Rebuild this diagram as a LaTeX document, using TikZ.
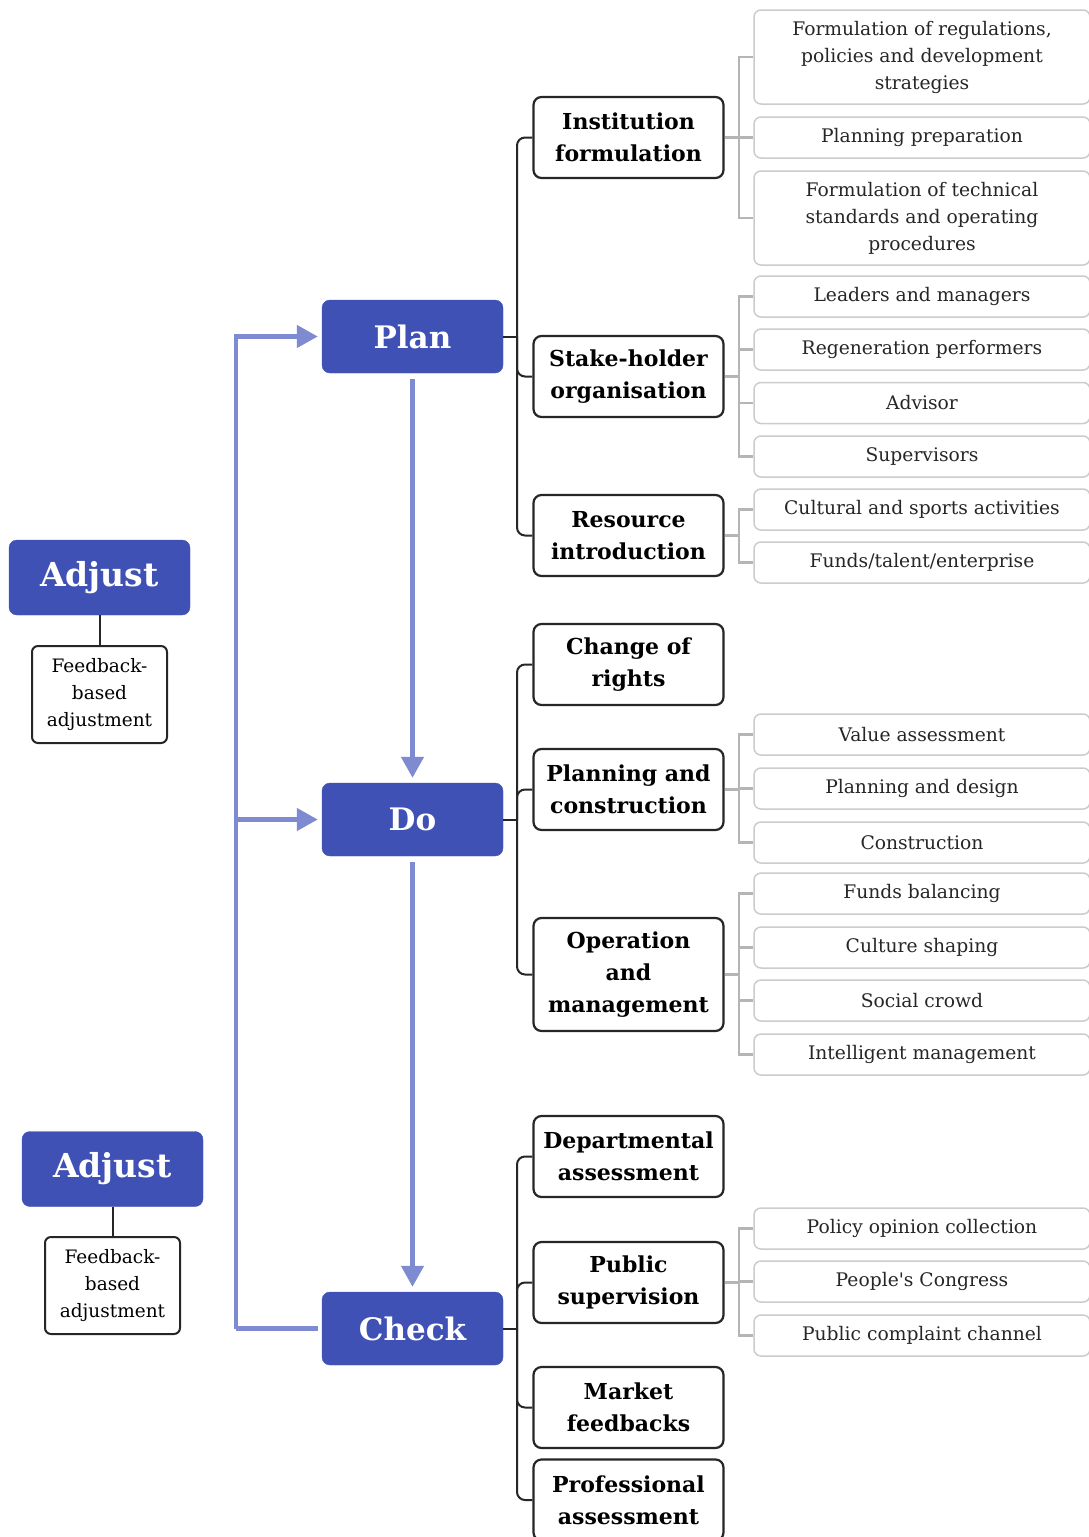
\documentclass[tikz,border=0pt]{standalone}
\usepackage{fontspec}
\setmainfont{DejaVu Serif}
\usetikzlibrary{arrows.meta}
\definecolor{mainblue}{HTML}{3F51B5}
\definecolor{arrblue}{HTML}{7F8BD0}
\definecolor{boxgray}{HTML}{CCCCCC}
\definecolor{lgray}{HTML}{B5B5B5}
\tikzset{
  mainbox/.style={fill=mainblue, draw=mainblue, rounded corners=8pt, minimum width=181pt, minimum height=73pt, text=white, font=\fontsize{31}{36}\selectfont\bfseries, inner sep=0pt},
  subbox/.style={draw=black!85, line width=2.2pt, rounded corners=8pt, fill=white, minimum width=190pt, minimum height=81pt, font=\fontsize{22}{32}\selectfont\bfseries, align=center, inner sep=1pt},
  leafbox/.style={draw=boxgray, line width=1.5pt, rounded corners=7pt, fill=white, minimum width=336pt, minimum height=41pt, font=\fontsize{18.7}{27}\selectfont, text=black!85, align=center, inner sep=1pt},
  fbbox/.style={draw=black!85, line width=2pt, rounded corners=6pt, fill=white, minimum width=135pt, minimum height=97pt, font=\fontsize{18.5}{27}\selectfont, align=center, inner sep=1pt},
  blk/.style={draw=black!85, line width=2pt, rounded corners=8pt},
  gl/.style={draw=lgray, line width=2.2pt},
  bline/.style={draw=arrblue, line width=4.5pt},
  barr/.style={draw=arrblue, line width=4.5pt, -{Triangle[length=21pt,width=22pt]}},
}
\begin{document}
\begin{tikzpicture}[x=1pt,y=-1pt]
\useasboundingbox (0,0) rectangle (1088,1537);
\fill[white] (0,0) rectangle (1088,1537);

% main nodes
\node[mainbox] (plan) at (412.5,336.5) {Plan};
\node[mainbox] (do) at (412.5,819.5) {Do};
\node[mainbox] (check) at (412.5,1328.5) {Check};
\node[mainbox, minimum height=75pt, font=\fontsize{33}{38}\selectfont\bfseries] (adj1) at (99.5,577.5) {Adjust};
\node[mainbox, minimum height=75pt, font=\fontsize{33}{38}\selectfont\bfseries] (adj2) at (112.5,1169) {Adjust};
\node[fbbox] (fb1) at (99.5,694.5) {Feedback-\\based\\adjustment};
\node[fbbox] (fb2) at (112.5,1285.5) {Feedback-\\based\\adjustment};
\draw[blk] (adj1) -- (fb1);
\draw[blk] (adj2) -- (fb2);

% blue arrows
\coordinate (lt) at (236,336.5);
\coordinate (lm) at (236,819.5);
\coordinate (lb) at (236,1328.5);
\draw[bline, shorten <=4pt] (check.west) -- (lb);
\draw[barr, shorten >=4pt] (lb) -- (lt) -- (plan.west);
\draw[barr, shorten >=4pt] (lm) -- (do.west);
\draw[barr, shorten <=6pt, shorten >=5pt] (plan.south) -- (do.north);
\draw[barr, shorten <=6pt, shorten >=5pt] (do.south) -- (check.north);

% level 2
\node[subbox] (inst) at (628.5,137.5) {Institution\\formulation};
\node[subbox] (stake) at (628.5,376.5) {Stake-holder\\organisation};
\node[subbox] (res) at (628.5,535.5) {Resource\\introduction};
\node[subbox] (chg) at (628.5,664.5) {Change of\\rights};
\node[subbox] (pac) at (628.5,789.5) {Planning and\\construction};
\node[subbox, minimum height=113pt] (om) at (628.5,974.5) {Operation\\and\\management};
\node[subbox] (dep) at (628.5,1156.5) {Departmental\\assessment};
\node[subbox] (pub) at (628.5,1282.5) {Public\\supervision};
\node[subbox] (mkt) at (628.5,1407.5) {Market\\feedbacks};
\node[subbox] (prof) at (628.5,1500) {Professional\\assessment};

% black brackets
\coordinate (pb) at (517,336.5);
\coordinate (db) at (517,819.5);
\coordinate (cb) at (517,1328.5);
\draw[blk, rounded corners=0pt] (plan.east) -- (pb);
\draw[blk] (inst.west) -| (pb) |- (res.west);
\draw[blk] (pb) |- (stake.west);
\draw[blk, rounded corners=0pt] (do.east) -- (db);
\draw[blk] (chg.west) -| (db) |- (om.west);
\draw[blk] (db) |- (pac.west);
\draw[blk, rounded corners=0pt] (check.east) -- (cb);
\draw[blk] (dep.west) -| (cb) |- (prof.west);
\draw[blk] (cb) |- (pub.west);
\draw[blk] (cb) |- (mkt.west);

% leaves
\node[leafbox, minimum height=94pt] (i1) at (922,57) {Formulation of regulations,\\policies and development\\strategies};
\node[leafbox] (i2) at (922,137.5) {Planning preparation};
\node[leafbox, minimum height=94pt] (i3) at (922,218) {Formulation of technical\\standards and operating\\procedures};
\node[leafbox] (s1) at (922,296.5) {Leaders and managers};
\node[leafbox] (s2) at (922,349.5) {Regeneration performers};
\node[leafbox] (s3) at (922,403) {Advisor};
\node[leafbox] (s4) at (922,456.5) {Supervisors};
\node[leafbox] (r1) at (922,509.5) {Cultural and sports activities};
\node[leafbox] (r2) at (922,562.5) {Funds/talent/enterprise};
\node[leafbox] (p1) at (922,734.5) {Value assessment};
\node[leafbox] (p2) at (922,788.5) {Planning and design};
\node[leafbox] (p3) at (922,842.5) {Construction};
\node[leafbox] (o1) at (922,893.5) {Funds balancing};
\node[leafbox] (o2) at (922,947.5) {Culture shaping};
\node[leafbox] (o3) at (922,1000.5) {Social crowd};
\node[leafbox] (o4) at (922,1054.5) {Intelligent management};
\node[leafbox] (u1) at (922,1228.5) {Policy opinion collection};
\node[leafbox] (u2) at (922,1281.5) {People\textquotesingle s Congress};
\node[leafbox] (u3) at (922,1335.5) {Public complaint channel};

% gray brackets
\coordinate (ib) at (739,137.5);
\draw[gl] (inst.east) -- (ib) -- (i2.west);
\draw[gl] (i1.west) -| (ib) |- (i3.west);
\coordinate (sb) at (739,376.5);
\draw[gl] (stake.east) -- (sb);
\draw[gl] (s1.west) -| (sb) |- (s4.west);
\draw[gl] (sb) |- (s2.west);
\draw[gl] (sb) |- (s3.west);
\coordinate (rb) at (739,535.5);
\draw[gl] (res.east) -- (rb);
\draw[gl] (r1.west) -| (rb) |- (r2.west);
\coordinate (qb) at (739,789.5);
\draw[gl] (pac.east) -- (qb);
\draw[gl] (p1.west) -| (qb) |- (p3.west);
\draw[gl] (qb) |- (p2.west);
\coordinate (ob) at (739,974.5);
\draw[gl] (om.east) -- (ob);
\draw[gl] (o1.west) -| (ob) |- (o4.west);
\draw[gl] (ob) |- (o2.west);
\draw[gl] (ob) |- (o3.west);
\coordinate (ub) at (739,1282.5);
\draw[gl] (pub.east) -- (ub);
\draw[gl] (u1.west) -| (ub) |- (u3.west);
\draw[gl] (ub) |- (u2.west);
\end{tikzpicture}
\end{document}
